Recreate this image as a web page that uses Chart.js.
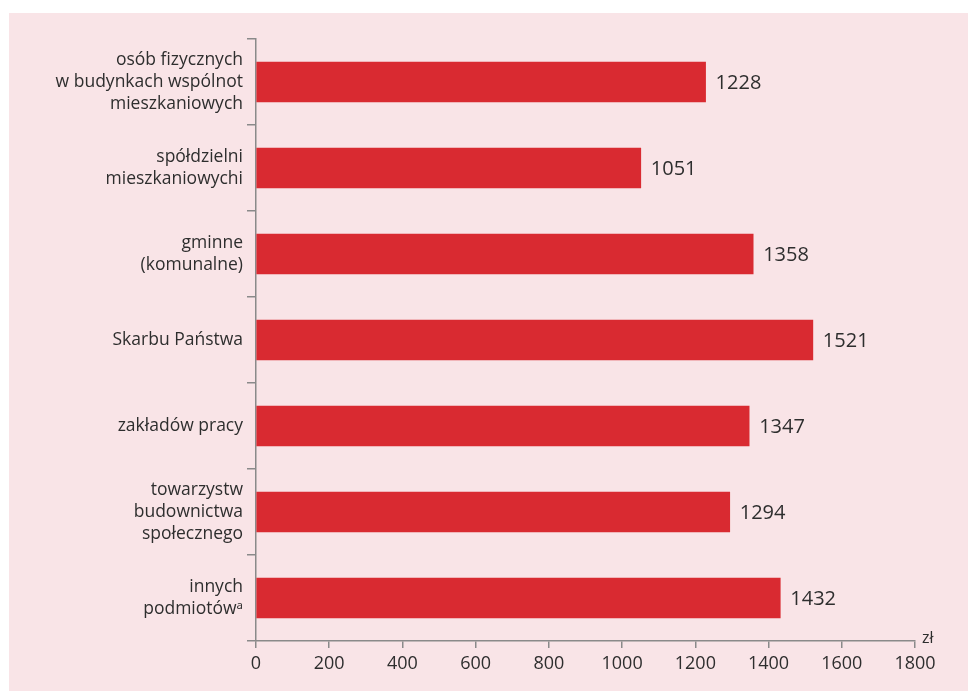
<!DOCTYPE html>
<html>
<head>
<meta charset="utf-8">
<script src="https://cdn.jsdelivr.net/npm/chart.js@4"></script>
<style>
  html, body { margin: 0; padding: 0; background: #fff; }
  #wrap { position: absolute; left: 9px; top: 13px; width: 959px; height: 678px; background: #f9e4e7; }
</style>
</head>
<body>
<div id="wrap"><canvas id="myChart" width="959" height="678"></canvas></div>
<script>
// categories (multi-line labels) and values in zł
let categories = [
    ['osób fizycznych', 'w budynkach wspólnot', 'mieszkaniowych'],
    ['spółdzielni', 'mieszkaniowychi'],
    ['gminne', '(komunalne)'],
    'Skarbu Państwa',
    'zakładów pracy',
    ['towarzystw', 'budownictwa', 'społecznego'],
    ['innych', 'podmiotówᵃ']
];
let values = [1228, 1051, 1358, 1521, 1347, 1294, 1432];
let xTicks = [0, 200, 400, 600, 800, 1000, 1200, 1400, 1600, 1800];
let unitLabel = 'zł';

const fontFamily = '"Open Sans", "Noto Sans", sans-serif';
const axisColor = '#8a8a8a';
const textColor = '#2e2e2e';

// value labels at bar ends + unit at the end of x axis
const extras = {
    id: 'extras',
    afterDatasetsDraw(chart) {
        const c = chart.ctx;
        const meta = chart.getDatasetMeta(0);
        c.save();
        c.fillStyle = textColor;
        c.font = '20px ' + fontFamily;
        c.textBaseline = 'middle';
        c.textAlign = 'left';
        meta.data.forEach((bar, i) => {
            c.fillText(String(values[i]), bar.x + 10, bar.y + 1);
        });
        const area = chart.chartArea;
        c.font = '16px ' + fontFamily;
        c.textBaseline = 'alphabetic';
        c.fillText(unitLabel, area.right + 7, area.bottom + 2);
        c.restore();
    }
};

let ctx = document.getElementById('myChart').getContext('2d');
let chart = new Chart(ctx, {
    type: 'bar',
    data: {
        labels: categories,
        datasets: [{
            data: values,
            backgroundColor: '#d92a31',
            borderWidth: 0,
            barThickness: 40
        }]
    },
    options: {
        indexAxis: 'y',
        responsive: false,
        animation: false,
        layout: { padding: { top: 26, right: 53, left: 0, bottom: 0 } },
        plugins: { legend: { display: false }, tooltip: { enabled: false } },
        scales: {
            x: {
                min: 0,
                max: 1800,
                afterBuildTicks: (s) => { s.ticks = xTicks.map(v => ({ value: v })); },
                afterFit: (s) => { s.height = 50; },
                grid: { drawOnChartArea: false, drawTicks: true, tickLength: 7, color: axisColor, lineWidth: 1.5 },
                border: { color: axisColor, width: 1.5 },
                ticks: {
                    color: textColor, font: { family: fontFamily, size: 18 }, padding: 5,
                    callback: (v) => String(v)
                }
            },
            y: {
                afterFit: (s) => { s.width = 247; },
                grid: { offset: true, drawOnChartArea: false, drawTicks: true, tickLength: 9, color: axisColor, lineWidth: 1.5 },
                border: { color: axisColor, width: 1.5 },
                ticks: { color: textColor, font: { family: fontFamily, size: 17.5, lineHeight: 1.25 }, padding: 4 }
            }
        }
    },
    plugins: [extras]
});
</script>
</body>
</html>
